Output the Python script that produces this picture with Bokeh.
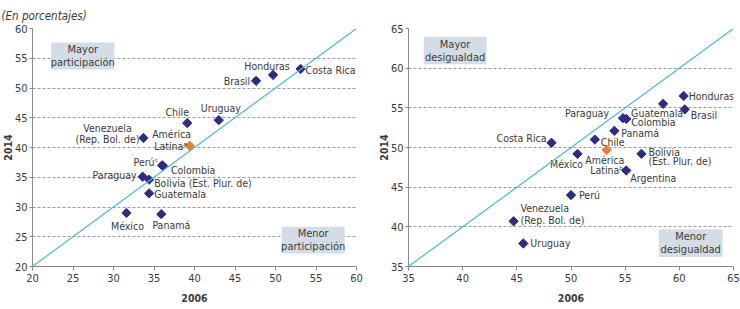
import math

from bokeh.core.properties import value
from bokeh.embed import file_html
from bokeh.layouts import row
from bokeh.models import BoxAnnotation, ColumnDataSource, FixedTicker, Range1d, Slope, Title
from bokeh.plotting import figure
from bokeh.resources import INLINE

FONT = "DejaVu Sans Condensed"
NAVY = "#2e2b80"
ORANGE = "#f07c2e"
TEXT = "#3a3a3a"
BOX = "#d4dde5"

# ---- Left panel: participation (2006 vs 2014) ----
part_names = ["Costa Rica", "Honduras", "Brasil", "Uruguay", "Chile",
              "Venezuela", "América Latina", "Perú", "Colombia", "Paraguay",
              "Bolivia", "Guatemala", "México", "Panamá"]
part_2006 = [53.1, 49.7, 47.6, 43.0, 39.1, 33.7, 39.4, 36.0, 36.1, 33.6, 34.4, 34.4, 31.6, 35.9]
part_2014 = [53.2, 52.2, 51.2, 44.6, 44.1, 41.6, 40.3, 37.0, 36.9, 35.1, 34.6, 32.3, 29.0, 28.8]

# ---- Right panel: inequality (2006 vs 2014) ----
ineq_names = ["Honduras", "Brasil", "Guatemala", "Paraguay", "Colombia",
              "Panamá", "Chile", "Costa Rica", "América Latina", "México",
              "Bolivia", "Argentina", "Perú", "Venezuela", "Uruguay"]
ineq_2006 = [60.4, 60.5, 58.5, 54.8, 55.1, 54.0, 52.2, 48.2, 53.3, 50.6, 56.5, 55.1, 50.0, 44.7, 45.6]
ineq_2014 = [56.5, 54.8, 55.5, 53.7, 53.6, 52.1, 51.0, 50.6, 49.7, 49.2, 49.2, 47.1, 44.0, 40.7, 37.9]

part_ticks = [20, 25, 30, 35, 40, 45, 50, 55, 60]
ineq_ticks = [35, 40, 45, 50, 55, 60, 65]

# label placement: name -> list of (line, align, dx px, dy px downward)
part_labels = {
    "Costa Rica": [("Costa Rica", "left", 5, 1)],
    "Honduras": [("Honduras", "center", -6, -9)],
    "Brasil": [("Brasil", "right", -6, 0)],
    "Uruguay": [("Uruguay", "center", 2, -12)],
    "Chile": [("Chile", "center", -10, -11)],
    "Venezuela": [("Venezuela", "center", -36, -10), ("(Rep. Bol. de)", "center", -36, 1)],
    "América Latina": [("América", "center", -18, -12), ("Latinaᵃ", "center", -19, 0)],
    "Perú": [("Perúᶜ", "right", -4, -3)],
    "Colombia": [("Colombia", "left", 8, 4)],
    "Paraguay": [("Paraguay", "right", -6, -2)],
    "Bolivia": [("Bolivia (Est. Plur. de)", "left", 5, 3)],
    "Guatemala": [("Guatemala", "left", 5, 1)],
    "México": [("México", "center", 1, 13)],
    "Panamá": [("Panamá", "center", 10, 11)],
}
ineq_labels = {
    "Honduras": [("Honduras", "left", 5, 0)],
    "Brasil": [("Brasil", "left", 6, 6)],
    "Guatemala": [("Guatemala", "center", -6, 9)],
    "Paraguay": [("Paraguay", "right", -14, -5)],
    "Colombia": [("Colombia", "left", 5, 3)],
    "Panamá": [("Panamá", "left", 7, 2)],
    "Chile": [("Chile", "left", 6, 2)],
    "Costa Rica": [("Costa Rica", "right", -5, -5)],
    "América Latina": [("América", "center", -2, 10), ("Latinaᵇ", "center", 0, 20)],
    "México": [("México", "center", -11, 10)],
    "Bolivia": [("Bolivia", "left", 7, -2), ("(Est. Plur. de)", "left", 7, 7)],
    "Argentina": [("Argentina", "left", 4, 7)],
    "Perú": [("Perú", "left", 8, 0)],
    "Venezuela": [("Venezuela", "left", 7, -13), ("(Rep. Bol. de)", "left", 7, -1)],
    "Uruguay": [("Uruguay", "left", 7, 0)],
}

# shaded note boxes: (left, right, bottom, top, line1, line2)
part_boxes = [(22.3, 30.1, 53.1, 57.65, "Mayor", "participación"),
              (50.75, 58.55, 22.2, 26.7, "Menor", "participación")]
ineq_boxes = [(36.4, 42.2, 60.5, 63.95, "Mayor", "desigualdad"),
              (58.1, 64.0, 36.2, 39.7, "Menor", "desigualdad")]


def panel(names, xs, ys, labels, boxes, ticks, lo, hi, left_border, right_border):
    p = figure(width=370, height=309, x_range=Range1d(lo, hi), y_range=Range1d(lo, hi),
               output_backend="svg", toolbar_location=None,
               min_border_left=left_border, min_border_right=right_border,
               min_border_top=28, min_border_bottom=43)
    p.outline_line_color = None
    p.background_fill_color = "white"
    p.border_fill_color = "white"
    p.xgrid.grid_line_color = None
    p.ygrid.grid_line_color = "#9a9a9a"
    p.ygrid.grid_line_dash = "3 2"
    p.ygrid.ticker = FixedTicker(ticks=ticks)
    for ax in (p.xaxis[0], p.yaxis[0]):
        ax.ticker = FixedTicker(ticks=ticks)
        ax.axis_line_color = "#8a8a8a"
        ax.major_tick_line_color = "#8a8a8a"
        ax.major_tick_in = 0
        ax.minor_tick_line_color = None
        ax.major_label_text_font = FONT
        ax.major_label_text_font_size = "11px"
        ax.major_label_text_color = TEXT
        ax.axis_label_text_font = FONT
        ax.axis_label_text_font_size = "10.5px"
        ax.axis_label_text_font_style = "bold"
        ax.axis_label_text_color = TEXT
    p.xaxis.major_tick_out = 4
    p.xaxis.major_label_standoff = 3
    p.xaxis.axis_label = "2006"
    p.xaxis.axis_label_standoff = 9
    p.yaxis.major_tick_out = 3
    p.yaxis.major_label_standoff = 2
    p.yaxis.axis_label = "2014"
    p.yaxis.axis_label_standoff = 0

    # equality line
    p.add_layout(Slope(gradient=1, y_intercept=0, line_color="#4db6d0", line_width=1.2))

    for (l, r, b, t, t1, t2) in boxes:
        p.add_layout(BoxAnnotation(left=l, right=r, bottom=b, top=t, fill_color=BOX,
                                   fill_alpha=1, line_color=None, level="underlay"))
        src = ColumnDataSource(dict(x=[(l + r) / 2] * 2, y=[(b + t) / 2] * 2,
                                    t=[t1, t2], dy=[-6.5, 6.5]))
        p.text(x="x", y="y", text="t", y_offset="dy", source=src, text_align="center",
               text_baseline="middle", text_font=value(FONT), text_font_size="11px",
               text_color=TEXT)

    colors = [ORANGE if n == "América Latina" else NAVY for n in names]
    pts = ColumnDataSource(dict(x=xs, y=ys, c=colors))
    p.scatter(x="x", y="y", source=pts, marker="square", size=6.6, angle=math.pi / 4,
              fill_color="c", line_color="c")

    rows = dict(x=[], y=[], t=[], a=[], dx=[], dy=[])
    for n, x, y in zip(names, xs, ys):
        for (txt, al, dx, dy) in labels[n]:
            rows["x"].append(x)
            rows["y"].append(y)
            rows["t"].append(txt)
            rows["a"].append(al)
            rows["dx"].append(dx)
            rows["dy"].append(dy)
    lsrc = ColumnDataSource(rows)
    p.text(x="x", y="y", text="t", text_align="a", x_offset="dx", y_offset="dy",
           source=lsrc, text_baseline="middle", text_font=value(FONT),
           text_font_size="10.5px", text_color=TEXT)
    return p


left = panel(part_names, part_2006, part_2014, part_labels, part_boxes, part_ticks,
             20, 60, 31, 14)
right = panel(ineq_names, ineq_2006, ineq_2014, ineq_labels, ineq_boxes, ineq_ticks,
              35, 65, 38, 7)

left.add_layout(Title(text="(En porcentajes)", align="left", offset=-31, standoff=11,
                      text_font=FONT, text_font_size="11.5px", text_font_style="italic",
                      text_color=TEXT), "above")

layout = row(left, right)
open("out.html", "w").write(file_html(layout, INLINE))
